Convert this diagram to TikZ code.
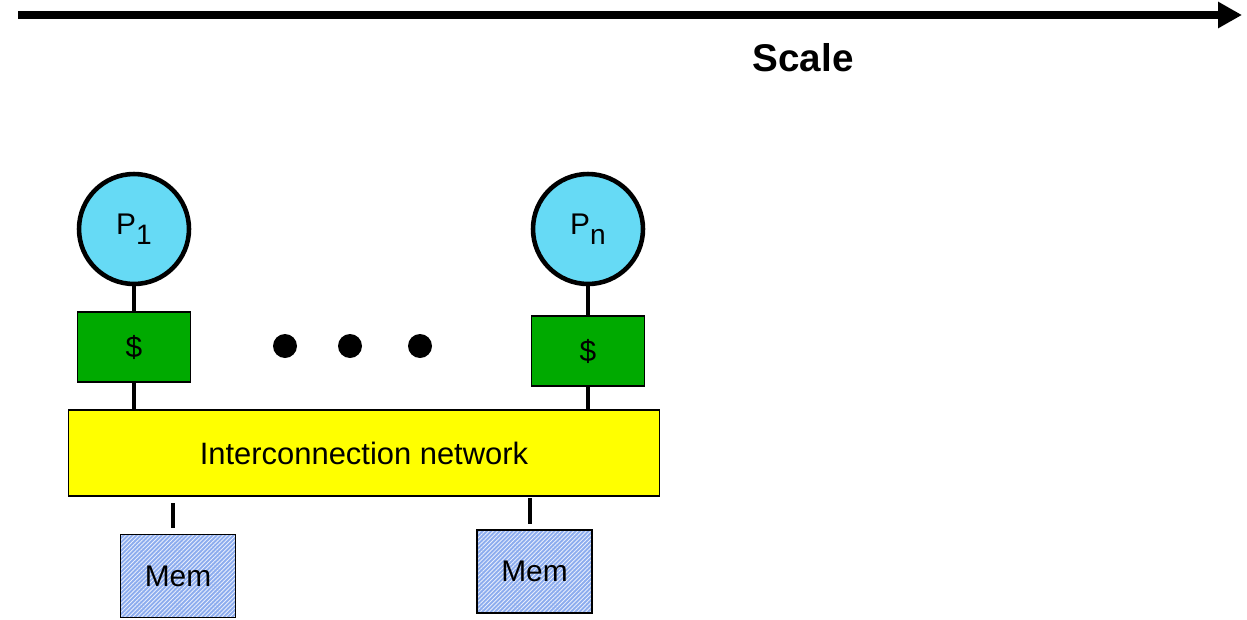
\documentclass[tikz,border=0pt]{standalone}
\usepackage{fontspec}
\setmainfont{Liberation Sans}
\usepackage{xcolor}
\usepackage{tikz}
\usetikzlibrary{arrows.meta, positioning, patterns.meta}
\definecolor{procblue}{RGB}{102,218,245}
\definecolor{cachegreen}{RGB}{0,170,0}
\definecolor{netyellow}{RGB}{255,255,0}
\definecolor{memblue}{RGB}{140,172,238}
\tikzstyle{proc} = [circle, draw=black, line width=2.6pt, fill=procblue,
minimum size=2.2cm, inner sep=0pt, font=\fontsize{17}{20}\selectfont]
\tikzstyle{cache} = [rectangle, draw=black, line width=1.1pt, fill=cachegreen,
minimum width=2.26cm, minimum height=1.4cm, font=\fontsize{17}{20}\selectfont]
\tikzstyle{network} = [rectangle, draw=black, line width=0.6pt, fill=netyellow,
minimum width=11.84cm, minimum height=1.72cm, font=\fontsize{17.6}{20}\selectfont]
\tikzstyle{membox} = [rectangle, draw=black, line width=0.9pt, preaction={fill=memblue},
pattern={Lines[angle=45, distance=1.7pt, line width=0.5pt]}, pattern color=white!80!memblue,
minimum width=2.3cm, minimum height=1.66cm, font=\fontsize{17}{20}\selectfont]
\tikzstyle{dot} = [circle, fill=black, inner sep=0pt, minimum size=0.48cm]
\tikzstyle{link} = [line width=2.8pt, draw=black]
\tikzstyle{scalearrow} = [-{Triangle[length=0.48cm, width=0.5cm]}, line width=4pt]
\newcommand{\procname}[1]{P\raisebox{-0.6ex}{\fontsize{16}{16}\selectfont #1}}

\begin{document}
\begin{tikzpicture}[x=0.02cm, y=-0.02cm, node distance=0.5cm]
    \useasboundingbox (0,0) rectangle (1247,619);

    % scale axis
    \coordinate (scalestart) at (18,15);
    \coordinate (scaleend) at (1242,15);
    \draw[scalearrow] (scalestart) -- (scaleend);
    \node (scalelabel) at (803,58) {\fontsize{22}{26}\selectfont\bfseries Scale};

    % processors and caches
    \node (p1) [proc] at (134,229) {\procname{1}};
    \node (pn) [proc] at (588,229) {\procname{n}};
    \node (c1) [cache, below=0.5cm of p1] {\$};
    \node (cn) [cache, below=0.58cm of pn] {\$};

    \node (dot1) [dot] at (285,346) {};
    \node (dot2) [dot] at (350,346) {};
    \node (dot3) [dot] at (420,346) {};

    % network and memories
    \node (net) [network] at (364,453) {Interconnection network};
    \node (mem1) [membox] at (178,576) {\raisebox{-0.15ex}{Mem}};
    \node (mem2) [membox] at (534.5,571.5) {Mem};

    \coordinate (stub1top) at (173,503);
    \coordinate (stub1bot) at (173,528);
    \coordinate (stub2top) at (530,498);
    \coordinate (stub2bot) at (530,524);

    \draw[link] (p1.south) -- (c1.north);
    \draw[link] (pn.south) -- (cn.north);
    \draw[link] (c1.south) -- (c1.south |- net.north);
    \draw[link] (cn.south) -- (cn.south |- net.north);
    \draw[link] (stub1top) -- (stub1bot);
    \draw[link] (stub2top) -- (stub2bot);
\end{tikzpicture}
\end{document}
